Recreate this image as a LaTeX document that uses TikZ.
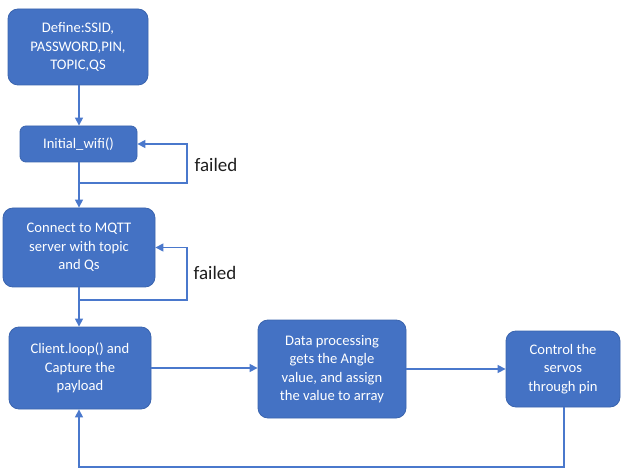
\documentclass[tikz,border=0pt]{standalone}
\usepackage{fontspec}
\setmainfont{Carlito}
\usetikzlibrary{arrows.meta}
\definecolor{boxblue}{HTML}{4472C4}
\definecolor{boxedge}{HTML}{3A64AE}
\definecolor{lineblue}{HTML}{4A78CC}
\definecolor{labelgray}{HTML}{1E1E1E}
\begin{document}
\begin{tikzpicture}[x=1pt,y=-1pt,
  flowbox/.style={rectangle, rounded corners=10pt, fill=boxblue, draw=boxedge, line width=0.8pt,
    text=white, align=center, inner sep=0pt,
    font=\fontsize{14.6}{18.5}\selectfont},
  conn/.style={draw=lineblue, line width=1.3pt, -{Triangle[length=8pt,width=8pt]}},
  plainconn/.style={draw=lineblue, line width=1.3pt},
  faillabel/.style={text=labelgray, font=\fontsize{19}{22}\selectfont, inner sep=0pt}
]
\useasboundingbox (0,0) rectangle (621,470);
\node[flowbox, minimum width=140pt, minimum height=76pt] (def) at (78,47)
  {Define:SSID,\\PASSWORD,PIN,\\TOPIC,QS};
\node[flowbox, rounded corners=6pt, minimum width=117pt, minimum height=36pt] (wifi) at (78.5,144)
  {Initial\_wifi()};
\node[flowbox, minimum width=152pt, minimum height=79pt] (mqtt) at (79,247.5)
  {Connect to MQTT\\server with topic\\and Qs};
\node[flowbox, minimum width=142pt, minimum height=82pt] (loop) at (80,368)
  {Client.loop() and\\Capture the\\payload};
\node[flowbox, minimum width=148pt, minimum height=98pt] (data) at (332,369)
  {Data processing\\gets the Angle\\value, and assign\\the value to array};
\node[flowbox, minimum width=114pt, minimum height=76pt] (servo) at (563,369)
  {Control the\\servos\\through pin};

\coordinate (f1a) at (79,183);
\coordinate (f1b) at (187,183);
\coordinate (f2a) at (79,300);
\coordinate (f2b) at (187,300);
\coordinate (bl) at (79,467);
\coordinate (br) at (564,467);

\draw[conn] (def.south -| 79,0) -- (wifi.north -| 79,0);
\draw[conn] (wifi.south -| 79,0) -- (mqtt.north -| 79,0);
\draw[conn] (f1a) -- (f1b) -- (f1b |- wifi.east) -- (wifi.east);
\draw[conn] (mqtt.south -| 79,0) -- (loop.north -| 79,0);
\draw[conn] (f2a) -- (f2b) -- (f2b |- mqtt.east) -- (mqtt.east);
\draw[conn] (loop.east) -- (data.west |- loop.east);
\draw[conn] (data.east) -- (servo.west);
\draw[conn] (servo.south -| br) -- (br) -- (bl) -- (loop.south -| bl);

\node[faillabel] (fail1) at (216,165) {failed};
\node[faillabel] (fail2) at (215,273) {failed};
\end{tikzpicture}
\end{document}
